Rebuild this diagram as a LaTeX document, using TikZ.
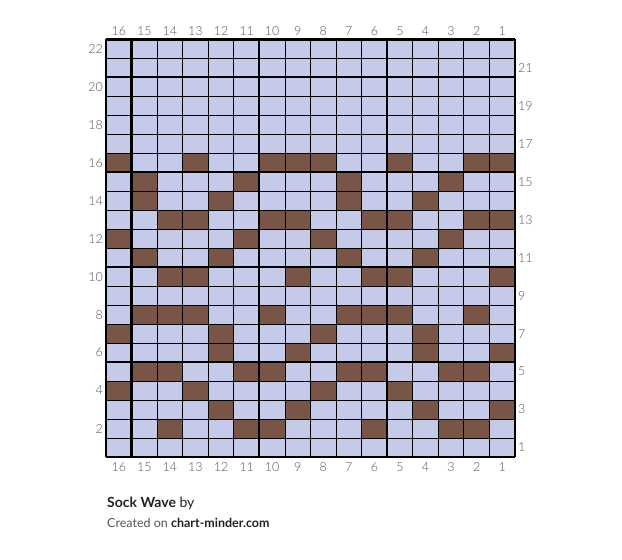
\documentclass[tikz,border=0pt]{standalone}
\usepackage{fontspec}
\setmainfont{Lato}
\newfontfamily\numfont{Lato Light}
\definecolor{cellbg}{HTML}{C5CAE9}
\definecolor{cellfg}{HTML}{795548}
\definecolor{numgray}{HTML}{555555}
\definecolor{titleink}{HTML}{222222}

\begin{document}
\begin{tikzpicture}[
    x=1pt, y=1pt,
    num/.style={font=\numfont\fontsize{12.5}{12.5}\selectfont, text=numgray, inner sep=0pt},
    title/.style={anchor=base west, inner sep=0pt, text=titleink},
    thingrid/.style={line width=0.8pt},
    thickgrid/.style={line width=2.2pt}
]
\useasboundingbox (0,0) rectangle (622,560);

\begin{scope}[shift={(106,103)}, x=25.5625pt, y=18.98pt]
% Background
\fill[cellbg] (0,0) rectangle (16,22);

% Pattern (row / stitch columns)
\foreach \r/\cols in {16/{16,13,10,9,8,5,2,1}, 15/{15,11,7,3}, 14/{15,12,7,4},
    13/{14,13,10,9,6,5,2,1}, 12/{16,11,8,3}, 11/{15,12,7,4}, 10/{14,13,9,6,5,1},
    8/{15,14,13,10,7,6,5,2}, 7/{16,12,8,4}, 6/{12,9,4,1}, 5/{15,14,11,10,7,6,3,2},
    4/{16,13,8,5}, 3/{12,9,4,1}, 2/{14,11,10,6,3,2}}
  \foreach \c in \cols
    \fill[cellfg] (16-\c,\r-1) rectangle (17-\c,\r);

% Grid
\foreach \x in {0,...,16}
  \draw[thingrid] (\x,0) -- (\x,22);
\foreach \y in {0,...,22}
  \draw[thingrid] (0,\y) -- (16,\y);
\foreach \x in {0,1,6,11,16}
  \draw[thickgrid] (\x,0) -- (\x,22);
\foreach \y in {0,5,10,15,20,22}
  \draw[thickgrid] (0,\y) -- (16,\y);

% Column numbers
\foreach \c in {1,...,16} {
  \node[num, anchor=base, yshift=4.2pt] (top\c) at (16.5-\c,22) {\c};
  \node[num, anchor=base, yshift=-15pt] (bot\c) at (16.5-\c,0) {\c};
}

% Row numbers
\foreach \r in {2,4,...,22}
  \node[num, anchor=east, xshift=-3pt] (row\r) at (0,\r-0.5) {\r};
\foreach \r in {1,3,...,21}
  \node[num, anchor=west, xshift=3pt] (row\r) at (16,\r-0.5) {\r};
\end{scope}

% Title
\node[title, font=\fontsize{14}{14}\selectfont] (name) at (107,52) {\textbf{Sock Wave} by};
\node[title, font=\fontsize{12.5}{12.5}\selectfont, text=numgray] (credit) at (107,32)
  {Created on \textcolor{titleink}{\textbf{chart-minder.com}}};

\end{tikzpicture}
\end{document}
